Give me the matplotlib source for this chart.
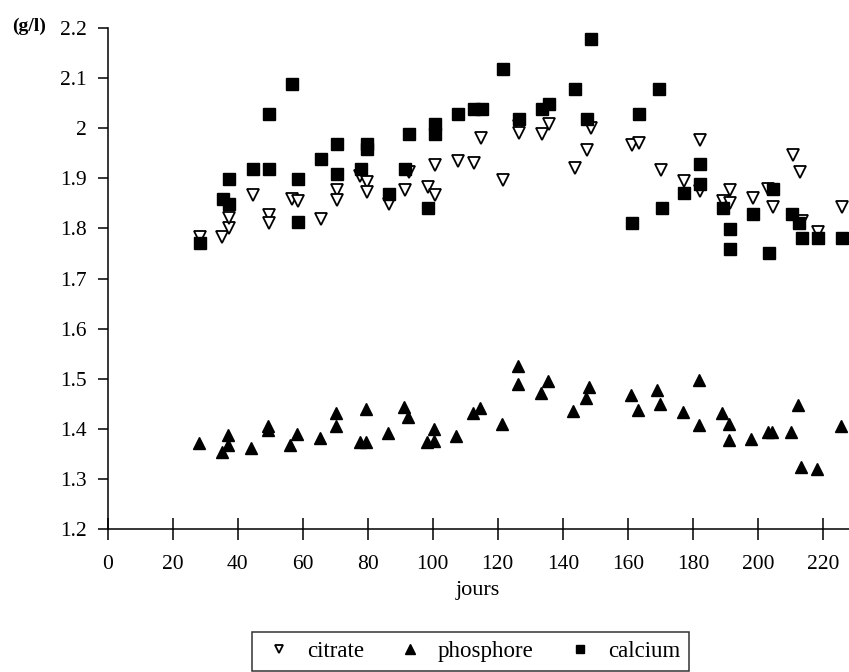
import numpy as np
import matplotlib
matplotlib.use('Agg')
import matplotlib.pyplot as plt

plt.rcParams['font.family'] = ['Liberation Serif', 'DejaVu Serif']

# citrate (g/l)
citrate_jours = [28.5, 35.3, 37.4, 37.4, 44.6, 49.6, 49.6, 56.7, 58.5, 65.6, 70.6, 70.6,
                 77.5, 79.7, 79.7, 86.7, 91.6, 92.8, 98.5, 100.8, 100.8, 107.8, 112.6,
                 114.8, 121.7, 126.5, 126.5, 133.6, 135.7, 143.6, 147.4, 148.7, 161.3,
                 163.4, 170.3, 177.4, 182.3, 182.3, 189.3, 191.4, 191.4, 198.5, 203.1,
                 204.7, 210.7, 212.8, 213.6, 218.6, 225.7]
citrate_val = [1.783, 1.783, 1.801, 1.821, 1.867, 1.826, 1.810, 1.859, 1.854, 1.818, 1.876, 1.857,
               1.904, 1.893, 1.873, 1.849, 1.876, 1.912, 1.883, 1.867, 1.927, 1.935, 1.930,
               1.981, 1.897, 2.005, 1.990, 1.989, 2.008, 1.921, 1.956, 2.000, 1.966,
               1.970, 1.917, 1.894, 1.977, 1.874, 1.854, 1.876, 1.851, 1.861, 1.879,
               1.843, 1.947, 1.912, 1.814, 1.793, 1.843]

# phosphore (g/l)
phosphore_jours = [28.2, 35.1, 37.0, 37.0, 44.2, 49.2, 49.2, 56.2, 58.2, 65.2, 70.2, 70.2,
                   77.5, 79.5, 79.5, 86.2, 91.3, 92.4, 98.2, 100.3, 100.3, 107.2, 112.4,
                   114.4, 121.2, 126.2, 126.2, 133.3, 135.3, 143.1, 147.1, 148.2, 161.0,
                   163.0, 169.0, 170.0, 177.0, 181.9, 181.9, 189.0, 191.0, 191.0, 198.0,
                   203.1, 204.4, 210.2, 212.2, 213.1, 218.2, 225.4]
phosphore_val = [1.371, 1.353, 1.368, 1.387, 1.361, 1.406, 1.398, 1.368, 1.389, 1.382, 1.406, 1.432,
                 1.373, 1.373, 1.439, 1.391, 1.444, 1.424, 1.373, 1.375, 1.399, 1.385, 1.431,
                 1.441, 1.409, 1.525, 1.489, 1.471, 1.495, 1.436, 1.462, 1.483, 1.468,
                 1.438, 1.477, 1.449, 1.434, 1.497, 1.408, 1.431, 1.410, 1.377, 1.379,
                 1.394, 1.393, 1.393, 1.447, 1.323, 1.320, 1.405]

# calcium (g/l)
calcium_jours = [28.5, 35.4, 37.4, 37.5, 44.6, 49.6, 49.6, 56.7, 58.5, 58.5, 65.6, 70.6, 70.6,
                 77.9, 79.7, 79.7, 86.7, 91.6, 92.8, 98.5, 100.8, 100.8, 107.8, 112.6, 115.1,
                 121.7, 126.5, 133.6, 135.7, 143.6, 147.4, 148.7, 161.3, 163.4, 169.5,
                 170.5, 177.4, 182.3, 182.3, 189.3, 191.4, 191.4, 198.5, 203.4, 204.7,
                 210.5, 212.6, 213.6, 218.6, 225.7]
calcium_val = [1.771, 1.859, 1.849, 1.899, 1.919, 1.919, 2.028, 2.088, 1.899, 1.812, 1.939, 1.969, 1.909,
               1.919, 1.969, 1.959, 1.869, 1.919, 1.988, 1.840, 2.009, 1.988, 2.028, 2.038, 2.038,
               2.118, 2.019, 2.038, 2.048, 2.078, 2.019, 2.178, 1.810, 2.028, 2.078,
               1.840, 1.871, 1.929, 1.889, 1.840, 1.799, 1.759, 1.829, 1.750, 1.879,
               1.829, 1.810, 1.780, 1.780, 1.780]

x_ticks = [0, 20, 40, 60, 80, 100, 120, 140, 160, 180, 200, 220]
y_ticks = [1.2, 1.3, 1.4, 1.5, 1.6, 1.7, 1.8, 1.9, 2.0, 2.1, 2.2]
y_labels = ['1.2', '1.3', '1.4', '1.5', '1.6', '1.7', '1.8', '1.9', '2', '2.1', '2.2']

fig = plt.figure(figsize=(8.49, 6.72), dpi=100)
ax = fig.add_axes([107.5 / 849, 1 - 529 / 672, 1 - 107.5 / 849, (529 - 28) / 672])

ax.plot(citrate_jours, citrate_val, 'v', ms=8, mfc='white', mec='black', mew=1.3,
        label='citrate', clip_on=False, zorder=3)
ax.plot(phosphore_jours, phosphore_val, '^', ms=8.5, color='black',
        label='phosphore', clip_on=False, zorder=3)
ax.plot(calcium_jours, calcium_val, 's', ms=8, color='black',
        label='calcium', clip_on=False, zorder=3)

ax.set_xlim(0, 228)
ax.set_ylim(1.2, 2.2)
ax.set_xticks(x_ticks)
ax.set_yticks(y_ticks)
ax.set_yticklabels(y_labels)
ax.spines['top'].set_visible(False)
ax.spines['right'].set_visible(False)
for s in ['left', 'bottom']:
    ax.spines[s].set_linewidth(1.1)
ax.tick_params(axis='x', direction='inout', length=16, width=1.1, labelsize=15.5, pad=11)
ax.tick_params(axis='y', direction='out', length=7, width=1.1, labelsize=15.5, pad=8)
ax.set_xlabel('jours', fontsize=16, labelpad=5)
fig.text(12 / 849, 1 - 26 / 672, '(g/l)', fontsize=14, fontweight='bold', va='center', ha='left')

leg = fig.legend(loc='upper left', bbox_to_anchor=(252 / 849, 1 - 632 / 672), ncol=3,
                 fontsize=16.5, frameon=True, fancybox=False, edgecolor='black',
                 markerscale=0.8, handlelength=1.55, handletextpad=0.44, columnspacing=1.25,
                 borderpad=0.4, borderaxespad=0)
leg.get_frame().set_linewidth(1.1)

fig.savefig('out.png', dpi=100)
